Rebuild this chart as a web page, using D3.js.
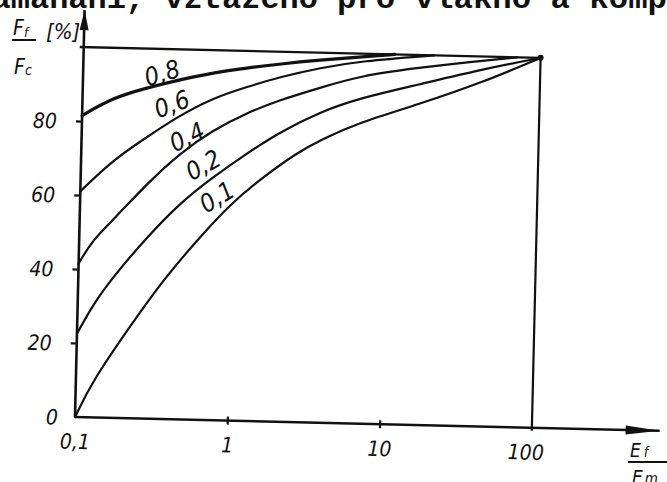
<!DOCTYPE html>
<html>
<head>
<meta charset="utf-8">
<script src="https://cdn.jsdelivr.net/npm/d3@7"></script>
<style>
  body { margin: 0; background: #fff; }
  svg { display: block; }
  .hand { font-family: "DejaVu Sans Condensed", "Liberation Sans Narrow", "DejaVu Sans", sans-serif; font-style: italic; font-stretch: condensed; fill: #111; }
  .type { font-family: "Liberation Mono", "DejaVu Sans Mono", monospace; font-weight: bold; fill: #111; }
</style>
</head>
<body>
<div id="chart"></div>
<script>
// Ef/Em ticks and Ff/Fc ticks
const ratioTicks = [0.1, 1, 10, 100]
const ratioTickLabels = ["0,1", "1", "10", "100"]
const pctTicks = [0, 20, 40, 60, 80]

// curves: [Ef/Em, Ff/Fc %], one per fibre volume fraction
const curve08 = [[0.1, 81.5], [0.158, 86.5], [0.264, 89.4], [0.434, 91.8], [0.713, 93.9], [1.19, 95.4], [1.96, 96.7], [3.58, 98], [6.5, 99.1], [11, 100]]
const curve06 = [[0.1, 61], [0.162, 69.7], [0.269, 76.1], [0.42, 81.7], [0.72, 87.1], [1.2, 90.3], [1.97, 93.2], [3.6, 95.9], [6.6, 98], [20, 100]]
const curve04 = [[0.1, 41.5], [0.123, 48], [0.166, 53.5], [0.273, 63.5], [0.446, 72], [0.727, 78.4], [1.21, 83.3], [1.98, 87], [3.6, 90.5], [6.6, 94], [15.6, 96.5], [35, 98.5], [70, 100]]
const curve02 = [[0.1, 22.5], [0.126, 30.5], [0.169, 38.1], [0.279, 49.1], [0.453, 58.5], [0.739, 65.7], [1.23, 72.4], [2, 78.3], [3.64, 84], [6.64, 88], [15.6, 91.9], [42, 96.6], [100, 100]]
const curve01 = [[0.1, 0], [0.129, 10], [0.232, 26], [0.36, 37.5], [0.593, 48.5], [0.966, 58.5], [1.57, 66], [2.61, 72.8], [3.68, 76.4], [6.68, 81.5], [15.7, 86.5], [42, 93], [100, 100]]

const curveNames = ["0,8", "0,6", "0,4", "0,2", "0,1"]
// where each curve name is written (Ef/Em, %)
const labelRatio = [0.33, 0.387, 0.492, 0.634, 0.79]
const labelPct = [93.5, 85.2, 76.4, 68.9, 60.4]

const curves = [curve08, curve06, curve04, curve02, curve01]
const labelRotate = [-18, -22, -27, -30, -33]

const width = 667, height = 482
const origin = { x: 75, y: 417 }
const skew = 1.35 // scan is slightly rotated

const svg = d3.select("#chart")
    .append("svg")
    .attr("width", width)
    .attr("height", height)

// cut typed line at the very top
svg.append("text")
    .attr("class", "type")
    .attr("x", 318)
    .attr("y", 8)
    .attr("font-size", 32)
    .attr("text-anchor", "end")
    .text("namáhání, vztaženo")
svg.append("text")
    .attr("class", "type")
    .attr("x", 337)
    .attr("y", 8)
    .attr("font-size", 32)
    .attr("textLength", 330)
    .attr("lengthAdjust", "spacingAndGlyphs")
    .text("pro vlákno a komp")

const g = svg.append("g")
    .attr("transform", `translate(${origin.x},${origin.y}) rotate(${skew})`)

const x = d3.scaleLog().domain([0.1, 100]).range([0, 457])
const y = d3.scaleLinear().domain([0, 100]).range([0, -370])

const xAxisEnd = 690
const yAxisEnd = 110

// y axis
const yAxis = d3.axisLeft(y)
    .tickValues(pctTicks)
    .tickSize(6)
    .tickFormat(d => d)

const yG = g.append("g").call(yAxis)
yG.select(".domain").remove()
yG.selectAll(".tick line")
    .attr("stroke", "#111")
    .attr("stroke-width", 2.2)
    .attr("opacity", d => d === 0 ? 0 : 1)
yG.selectAll(".tick text")
    .attr("class", "hand")
    .attr("font-size", 21)
    .attr("x", d => d === 0 ? -17 : -25)
    .attr("dy", "0.35em")

// x axis
const xAxis = d3.axisBottom(x)
    .tickValues(ratioTicks)
    .tickSize(4)
    .tickFormat((d, i) => ratioTickLabels[i])

const xG = g.append("g").call(xAxis)
xG.select(".domain").remove()
xG.selectAll(".tick line")
    .attr("stroke", "#111")
    .attr("stroke-width", 2.2)
    .attr("y1", -4)
    .attr("opacity", d => d === 1 || d === 10 ? 1 : 0)
xG.selectAll(".tick text")
    .attr("class", "hand")
    .attr("font-size", 21)
    .attr("y", 17)
    .attr("dy", "0.71em")
    .attr("dx", d => d === 100 ? -6 : 0)

// axis lines with arrows
g.append("line")
    .attr("x1", x(0.1)).attr("y1", y(0))
    .attr("x2", x(xAxisEnd)).attr("y2", y(0))
    .attr("stroke", "#111").attr("stroke-width", 2.4)
g.append("path")
    .attr("d", `M${x(xAxisEnd)},0 L${x(xAxisEnd) - 34},-4.5 L${x(xAxisEnd) - 34},4.5 Z`)
    .attr("fill", "#111")

g.append("line")
    .attr("x1", x(0.1)).attr("y1", y(0))
    .attr("x2", x(0.1)).attr("y2", y(yAxisEnd))
    .attr("stroke", "#111").attr("stroke-width", 2.6)
g.append("path")
    .attr("d", `M0,${y(yAxisEnd)} L-4.5,${y(yAxisEnd) + 20} L4.5,${y(yAxisEnd) + 20} Z`)
    .attr("fill", "#111")

// 100 % line and Ef/Em = 100 line
g.append("line")
    .attr("x1", x(0.1) - 4).attr("y1", y(100))
    .attr("x2", x(100)).attr("y2", y(100))
    .attr("stroke", "#111").attr("stroke-width", 2.4)
g.append("line")
    .attr("x1", x(100)).attr("y1", y(100))
    .attr("x2", x(100)).attr("y2", y(0) + 3)
    .attr("stroke", "#111").attr("stroke-width", 2.2)
g.append("circle")
    .attr("cx", x(100)).attr("cy", y(100))
    .attr("r", 3).attr("fill", "#111")

const line = d3.line()
    .x(d => x(d[0]))
    .y(d => y(d[1]))
    .curve(d3.curveBasis)

g.selectAll(".curve")
    .data(curves)
    .join("path")
    .attr("class", "curve")
    .attr("d", line)
    .attr("fill", "none")
    .attr("stroke", "#111")
    .attr("stroke-width", (d, i) => i === 0 ? 3.2 : 2.2)
    .attr("stroke-linecap", "round")

g.selectAll(".curve-label")
    .data(curveNames)
    .join("text")
    .attr("class", "hand curve-label")
    .attr("font-size", 25)
    .attr("text-anchor", "middle")
    .attr("dy", "0.35em")
    .attr("transform", (d, i) => `translate(${x(labelRatio[i])},${y(labelPct[i])}) rotate(${labelRotate[i]})`)
    .text(d => d)

// axis titles
const yt = svg.append("g")
yt.append("text").attr("class", "hand").attr("x", 13).attr("y", 35).attr("font-size", 21)
    .text("F").append("tspan").attr("font-size", 13).attr("dy", 2).text("f")
yt.append("text").attr("class", "hand").attr("x", 46).attr("y", 39).attr("font-size", 22).text("[%]")
yt.append("line").attr("x1", 12).attr("y1", 40).attr("x2", 36).attr("y2", 40)
    .attr("stroke", "#111").attr("stroke-width", 2)
yt.append("text").attr("class", "hand").attr("x", 14).attr("y", 74).attr("font-size", 21)
    .text("F").append("tspan").attr("font-size", 14).attr("dy", 1).text("c")

const xt = svg.append("g")
xt.append("text").attr("class", "hand").attr("x", 630).attr("y", 457).attr("font-size", 19)
    .text("E").append("tspan").attr("font-size", 14).attr("dx", 3).text("f")
xt.append("line").attr("x1", 628).attr("y1", 462).attr("x2", 667).attr("y2", 462)
    .attr("stroke", "#111").attr("stroke-width", 2)
xt.append("text").attr("class", "hand").attr("x", 632).attr("y", 484).attr("font-size", 19)
    .text("E").append("tspan").attr("font-size", 15).attr("dx", 2).text("m")
</script>
</body>
</html>
